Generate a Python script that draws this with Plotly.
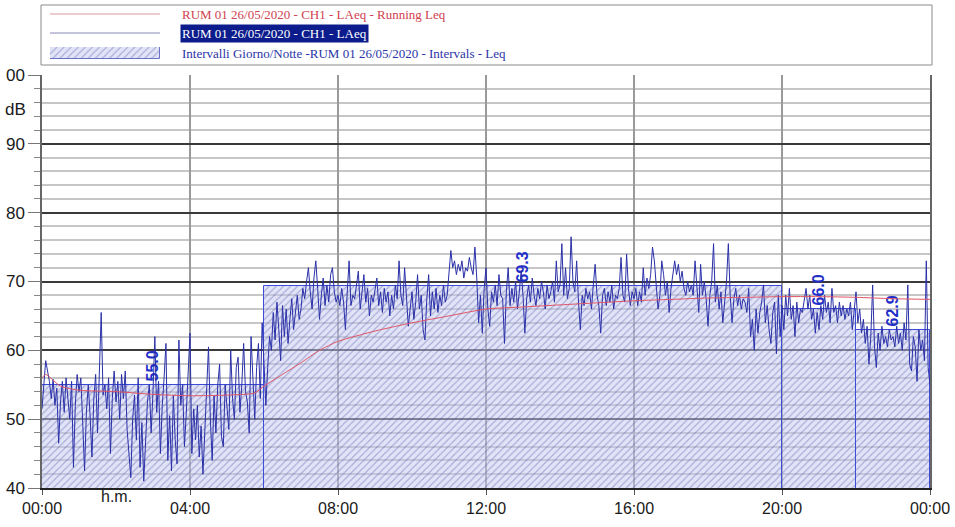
import numpy as np
import plotly.graph_objects as go

W, H = 955, 527

# LAeq, one value every 3 minutes, read hour by hour off the chart
laeq_00 = [51.5, 55.0, 58.5, 57.0, 55.5, 53.0, 55.8, 52.0, 54.5, 46.5, 52.5, 55.5, 51.0, 56.0, 53.5, 50.0, 55.5, 43.0, 52.0, 56.5]
laeq_01 = [54.0, 56.0, 49.5, 42.5, 51.0, 55.0, 50.5, 44.5, 53.0, 56.5, 48.0, 57.0, 65.5, 53.5, 55.0, 51.5, 56.0, 45.0, 53.0, 57.0]
laeq_02 = [52.5, 55.5, 50.0, 56.5, 53.0, 57.0, 48.5, 45.0, 41.5, 50.0, 53.5, 47.0, 56.0, 43.0, 49.5, 41.0, 46.0, 52.5, 55.0, 48.0]
laeq_03 = [54.0, 62.0, 51.0, 55.5, 45.0, 52.0, 56.0, 61.0, 44.0, 50.5, 42.5, 53.5, 47.0, 43.5, 61.5, 52.0, 55.0, 46.0, 51.0, 57.5]
laeq_04 = [62.5, 45.0, 51.5, 47.0, 52.0, 44.5, 49.0, 42.0, 48.5, 52.5, 60.5, 50.0, 44.0, 53.5, 48.0, 55.0, 58.0, 47.5, 46.0, 55.0]
laeq_05 = [52.0, 48.5, 60.0, 53.0, 50.0, 57.5, 59.0, 51.0, 55.0, 61.0, 54.0, 52.5, 48.0, 62.0, 56.0, 50.0, 57.5, 61.0, 53.0, 64.0]
laeq_06 = [58.0, 52.0, 57.5, 62.0, 60.0, 65.5, 61.5, 67.0, 63.0, 58.5, 66.5, 62.0, 66.0, 61.0, 64.5, 67.5, 63.0, 66.0, 68.0, 64.5]
laeq_07 = [66.0, 69.0, 67.5, 70.0, 72.0, 68.5, 66.0, 70.5, 73.0, 69.0, 64.5, 68.0, 70.5, 66.5, 69.5, 67.0, 71.0, 72.0, 68.5, 67.0]
laeq_08 = [68.0, 66.5, 69.0, 67.0, 63.0, 68.5, 73.0, 66.5, 68.0, 67.5, 69.5, 71.5, 66.0, 68.5, 71.0, 67.0, 69.0, 65.0, 68.0, 67.0]
laeq_09 = [69.0, 70.5, 66.5, 68.5, 65.5, 69.0, 67.0, 68.5, 65.0, 68.0, 66.0, 69.5, 67.5, 73.0, 68.0, 66.5, 72.0, 67.0, 63.5, 66.0]
laeq_10 = [68.5, 64.5, 67.0, 71.0, 66.0, 68.0, 63.0, 61.5, 67.5, 71.0, 65.0, 68.5, 66.0, 69.0, 65.5, 68.0, 66.5, 69.5, 67.0, 68.0]
laeq_11 = [71.5, 74.5, 72.0, 73.0, 71.0, 72.5, 71.5, 73.0, 70.5, 72.0, 71.5, 73.5, 72.0, 71.0, 75.0, 70.5, 64.0, 68.0, 62.5, 69.0]
laeq_12 = [72.0, 66.0, 63.5, 68.5, 67.0, 69.5, 66.5, 71.0, 68.0, 67.5, 61.0, 68.5, 72.0, 66.5, 69.0, 67.0, 70.0, 66.0, 68.5, 71.5]
laeq_13 = [68.0, 62.5, 67.5, 69.5, 67.0, 70.5, 68.0, 66.5, 69.0, 67.5, 70.0, 68.5, 66.0, 69.5, 67.5, 68.5, 70.0, 67.0, 73.0, 68.5]
laeq_14 = [69.5, 75.5, 68.0, 72.0, 67.5, 69.0, 76.5, 70.0, 68.5, 73.0, 67.0, 63.0, 68.0, 66.5, 69.0, 67.5, 68.5, 66.0, 69.5, 72.5]
laeq_15 = [68.0, 66.5, 62.5, 68.0, 69.0, 66.5, 68.5, 67.0, 69.5, 66.0, 68.0, 67.5, 69.0, 73.5, 68.0, 67.0, 74.0, 69.0, 66.5, 68.5]
laeq_16 = [67.5, 69.0, 66.5, 68.5, 67.0, 72.0, 68.0, 70.5, 69.0, 71.0, 75.0, 73.0, 69.5, 66.0, 68.0, 73.0, 71.0, 68.0, 70.0, 65.5]
laeq_17 = [69.0, 71.5, 73.0, 71.0, 72.5, 70.0, 71.5, 69.0, 68.0, 70.0, 68.5, 69.5, 68.0, 73.0, 69.0, 65.5, 72.5, 68.0, 70.0, 67.5]
laeq_18 = [63.5, 68.0, 70.0, 75.5, 67.0, 69.5, 66.0, 68.5, 64.0, 67.5, 70.0, 75.5, 68.0, 64.0, 67.5, 69.0, 66.5, 68.0, 66.0, 67.5]
laeq_19 = [67.0, 65.5, 69.0, 62.0, 64.5, 60.0, 66.0, 62.5, 65.5, 67.0, 69.5, 64.0, 66.5, 63.0, 61.0, 65.5, 67.0, 59.5, 68.0, 62.0]
laeq_20 = [66.5, 63.0, 68.0, 65.0, 69.0, 64.5, 66.5, 62.0, 67.0, 64.0, 66.0, 65.5, 67.5, 69.0, 66.0, 68.0, 64.5, 66.0, 62.5, 65.5]
laeq_21 = [63.0, 66.5, 64.5, 68.0, 65.5, 67.0, 64.0, 69.0, 65.5, 66.5, 64.0, 67.0, 65.0, 66.5, 64.5, 66.0, 65.0, 67.0, 63.0, 65.5]
laeq_22 = [68.5, 64.0, 66.0, 62.5, 64.5, 61.0, 63.5, 58.0, 62.0, 69.5, 60.5, 57.5, 62.5, 60.0, 63.5, 61.0, 62.0, 60.5, 63.0, 61.5]
laeq_23 = [62.0, 60.5, 63.5, 61.0, 62.5, 60.0, 64.0, 61.5, 69.5, 58.0, 57.0, 62.0, 60.5, 55.5, 63.0, 60.0, 61.5, 58.5, 73.0, 57.5]
laeq_24 = [55.0]

# running Leq (hours, dB)
run_t = [0, 0.1, 0.5, 1, 2, 3, 4, 5, 5.75, 6, 6.5, 7, 7.5, 8, 9, 10, 11, 12, 13, 14, 15, 16, 17, 18, 19, 20, 21, 22, 23, 24]
run_db = [56.0, 56.5, 54.8, 54.2, 54.0, 53.6, 53.4, 53.5, 53.8, 54.8, 56.5, 58.2, 60.0, 61.3, 62.8, 64.0, 65.0, 66.0, 66.3,
          66.6, 66.9, 67.2, 67.4, 67.6, 67.7, 67.8, 67.8, 67.7, 67.5, 67.4]

# day/night intervals
int_start = [0, 6, 20, 22]
int_end = [6, 20, 22, 24]
int_leq = [55.0, 69.3, 66.0, 62.9]

x_ticks = [0, 4, 8, 12, 16, 20, 24]
x_labels = ["00:00", "04:00", "08:00", "12:00", "16:00", "20:00", "00:00"]
y_ticks = [40, 50, 60, 70, 80, 90, 100]
y_labels = ["40", "50", "60", "70", "80", "90", "00"]

laeq = (laeq_00 + laeq_01 + laeq_02 + laeq_03 + laeq_04 + laeq_05 + laeq_06 + laeq_07 + laeq_08 + laeq_09 + laeq_10
        + laeq_11 + laeq_12 + laeq_13 + laeq_14 + laeq_15 + laeq_16 + laeq_17 + laeq_18 + laeq_19 + laeq_20 + laeq_21
        + laeq_22 + laeq_23 + laeq_24)
t = np.arange(len(laeq)) * 0.05

mid = [(a + b) / 2 for a, b in zip(int_start, int_end)]
dur = [b - a for a, b in zip(int_start, int_end)]

hatch = dict(shape="/", size=5, solidity=0.22, fgcolor="rgba(70,78,160,0.75)", fillmode="overlay")
BLUE = "#2a30a8"
RED = "#e05565"
SANS = "Liberation Sans, Arial, sans-serif"
SERIF = "Liberation Serif, Times New Roman, serif"

fig = go.Figure()
fig.add_trace(go.Bar(x=mid, y=int_leq, width=dur,
                     marker=dict(color="rgba(196,200,240,0.5)", pattern=hatch,
                                 line=dict(color="#3c4cd8", width=1)),
                     texttemplate="%{y:.1f}", textposition="outside", textangle=-90,
                     constraintext="none", cliponaxis=False,
                     textfont=dict(family=SANS, size=16, color="#1f2fc8", weight="bold")))
fig.add_trace(go.Scatter(x=t, y=laeq, mode="lines", line=dict(color=BLUE, width=1)))
fig.add_trace(go.Scatter(x=run_t, y=run_db, mode="lines", line=dict(color=RED, width=1, shape="spline", smoothing=0.6)))

# hatched sample for the custom legend
fig.add_trace(go.Bar(x=[1], y=[0.5], width=1, orientation="h", xaxis="x2", yaxis="y2",
                     marker=dict(color="rgba(196,200,240,0.5)", pattern=hatch,
                                 line=dict(color="#6a72c8", width=1))))

fig.update_layout(
    width=W, height=H, margin=dict(l=0, r=0, t=0, b=0, autoexpand=False),
    paper_bgcolor="white", plot_bgcolor="white", showlegend=False, bargap=0,
    xaxis=dict(domain=[42 / W, 930 / W], range=[0, 24], tickvals=x_ticks, ticktext=x_labels,
               showgrid=True, gridcolor="#9a9a9a", gridwidth=1.5, zeroline=False,
               ticks="outside", ticklen=5, tickcolor="#555", showline=True, linecolor="#222", linewidth=2,
               tickfont=dict(family=SANS, size=16, color="#1a1a1a")),
    yaxis=dict(domain=[(H - 488) / H, (H - 75) / H], range=[40, 100], tickvals=y_ticks, ticktext=y_labels,
               showgrid=True, gridcolor="#3a3a3a", gridwidth=2, zeroline=False,
               ticks="outside", ticklen=12, tickcolor="#777", showline=True, mirror=True,
               linecolor="#666", linewidth=1.5,
               minor=dict(dtick=2, showgrid=True, gridcolor="#c6c6c6", gridwidth=1.5,
                          ticks="outside", ticklen=6, tickcolor="#888"),
               tickfont=dict(family=SANS, size=17, color="#1a1a1a")),
    xaxis2=dict(domain=[50 / W, 160 / W], range=[0, 1], visible=False, anchor="y2", fixedrange=True),
    yaxis2=dict(domain=[(H - 59) / H, (H - 47) / H], range=[0, 1], visible=False, anchor="x2", fixedrange=True),
)

# legend frame, line samples and texts
fig.add_shape(type="rect", xref="paper", yref="paper", x0=41 / W, x1=932 / W, y0=(H - 65) / H, y1=(H - 5) / H,
              line=dict(color="#8a8a8a", width=1))
fig.add_shape(type="line", xref="paper", yref="paper", x0=50 / W, x1=160 / W, y0=(H - 14) / H, y1=(H - 14) / H,
              line=dict(color="#d99a9a", width=1.2))
fig.add_shape(type="line", xref="paper", yref="paper", x0=50 / W, x1=160 / W, y0=(H - 33) / H, y1=(H - 33) / H,
              line=dict(color="#8a8ab8", width=1.2))
fig.add_annotation(text="RUM 01 26/05/2020 - CH1 - LAeq - Running Leq", xref="paper", yref="paper",
                   x=180 / W, y=(H - 14) / H, xanchor="left", yanchor="middle", showarrow=False,
                   font=dict(family=SERIF, size=13, color="#d0404e"))
fig.add_annotation(text="RUM 01 26/05/2020 - CH1 - LAeq", xref="paper", yref="paper",
                   x=180 / W, y=(H - 33) / H, xanchor="left", yanchor="middle", showarrow=False,
                   bgcolor="#0c1c8c", borderpad=1, font=dict(family=SERIF, size=13, color="white"))
fig.add_annotation(text="Intervalli Giorno/Notte -RUM 01 26/05/2020 - Intervals - Leq", xref="paper", yref="paper",
                   x=180 / W, y=(H - 53) / H, xanchor="left", yanchor="middle", showarrow=False,
                   font=dict(family=SERIF, size=13, color="#2a34a8"))

# unit labels on the axes
fig.add_annotation(text="dB", x=28 / W, xref="paper", xanchor="right", y=95, yref="y", showarrow=False,
                   font=dict(family=SANS, size=17, color="#1a1a1a"))
fig.add_annotation(text="h.m.", x=2, xref="x", y=(H - 507) / H, yref="paper", showarrow=False,
                   font=dict(family=SANS, size=16, color="#1a1a1a"))

fig.write_html("out.html", config={"displayModeBar": False},
               post_script="document.body.style.margin='0';document.body.style.overflow='hidden';")
